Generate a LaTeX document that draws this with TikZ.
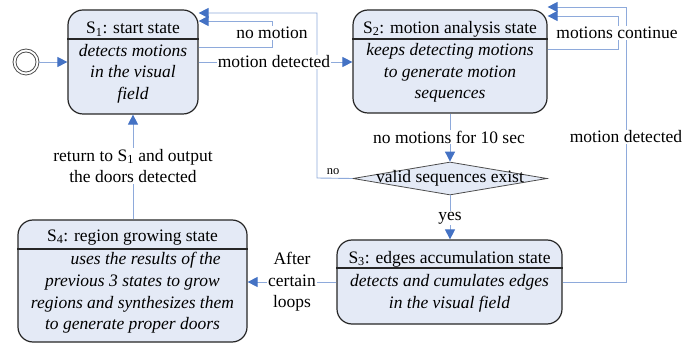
\documentclass[tikz,border=0pt]{standalone}
\usepackage{fontspec}
\setmainfont{Liberation Serif}
\usetikzlibrary{arrows.meta,shapes.geometric,calc}
\definecolor{boxfill}{RGB}{228,234,246}
\definecolor{lineblue}{RGB}{142,170,219}
\definecolor{tipblue}{RGB}{68,114,196}
\begin{document}
\begin{tikzpicture}[x=1pt,y=-1pt,
  statebox/.style={draw=black!85,line width=1.2pt,fill=boxfill,rounded corners=15pt,inner sep=0pt},
  divline/.style={draw=black!85,line width=1.2pt},
  txt/.style={font=\fontsize{17.5}{21.7}\selectfont,inner sep=0pt,align=center},
  itxt/.style={font=\fontsize{17.5}{21.7}\selectfont\itshape,inner sep=0pt,align=center},
  conn/.style={draw=lineblue,line width=0.9pt,-{Triangle[length=10pt,width=10pt,color=tipblue]}},
  plain/.style={draw=lineblue,line width=0.9pt},
  lbl/.style={font=\fontsize{17.5}{21.7}\selectfont,fill=white,inner sep=1pt,align=center}]
\useasboundingbox (0,0) rectangle (700,344);
% states
\node[statebox,minimum width=130pt,minimum height=104pt] (s1) at (133,62) {};
\draw[divline] (s1.west |- 0,39) -- (s1.east |- 0,39);
\node[txt] (s1t) at (133,29) {S\textsubscript{1}: start state};
\node[itxt] (s1b) at (133,73.5) {detects motions\\in the visual\\field};

\node[statebox,minimum width=194pt,minimum height=103pt] (s2) at (450,61.5) {};
\draw[divline] (s2.west |- 0,39) -- (s2.east |- 0,39);
\node[txt] (s2t) at (450,29) {S\textsubscript{2}: motion analysis state};
\node[itxt] (s2b) at (450,73) {keeps detecting motions\\to generate motion\\sequences};

\node[statebox,minimum width=225pt,minimum height=84pt] (s3) at (449.5,282) {};
\draw[divline] (s3.west |- 0,268) -- (s3.east |- 0,268);
\node[txt] (s3t) at (449.5,259) {S\textsubscript{3}: edges accumulation state};
\node[itxt] (s3b) at (449.5,293) {detects and cumulates edges\\in the visual field};

\node[statebox,minimum width=229pt,minimum height=122pt] (s4) at (132.5,281) {};
\draw[divline] (s4.west |- 0,249) -- (s4.east |- 0,249);
\node[txt] (s4t) at (132.5,237.5) {S\textsubscript{4}: region growing state};
\node[itxt] (s4b) at (132.5,293) {\hspace*{1.5em}uses the results of the\\previous 3 states to grow\\regions and synthesizes them\\to generate proper doors};

% decision
\node[diamond,draw=black!70,line width=0.8pt,fill=boxfill,minimum width=194pt,minimum height=33pt,inner sep=0pt] (d) at (450,178.5) {};
\node[txt] (dt) at (450,178) {valid sequences exist};

% initial state
\node[circle,draw=black!70,line width=0.8pt,minimum size=26pt,inner sep=0pt] (init) at (26,62) {};
\node[circle,draw=black!70,line width=0.8pt,minimum size=20pt,inner sep=0pt] (initin) at (26,62) {};

% coordinates
\coordinate (nmR) at (272,47);
\coordinate (nmT) at (272,21);
\coordinate (noL) at (317,178);
\coordinate (noT) at (317,13);
\coordinate (mcR) at (618,49);
\coordinate (mcT) at (618,16);
\coordinate (mdR) at (626,282);
\coordinate (mdT) at (626,7);

% connectors
\draw[conn] (init.east) -- (s1.west |- init.east);
\draw[conn] (s1.east |- nmR) -- (nmR) -- (nmT) -- (s1.east |- nmT);
\draw[conn] (s1.east |- 0,62) -- (s2.west |- 0,62);
\draw[conn] (d.west) -- (noL) -- (noT) -- (s1.east |- noT);
\draw[conn] (s2.south -| d.north) -- (d.north);
\draw[conn] (s2.east |- mcR) -- (mcR) -- (mcT) -- (s2.east |- mcT);
\draw[conn] (d.south) -- (s3.north -| d.south);
\draw[conn] (s3.east |- mdR) -- (mdR) -- (mdT) -- (s2.east |- mdT);
\draw[conn] (s3.west) -- (s4.east |- s3.west);
\draw[conn] (s4.north -| s1.south) -- (s1.south);

% labels
\node[lbl] (lnm) at (272,33) {no motion};
\node[lbl] (lmd) at (274,62) {motion detected};
\node[font=\fontsize{12.5}{14}\selectfont,inner sep=0pt] (lno) at (333,172) {no};
\node[lbl] (lnm10) at (449,137) {no motions for 10 sec};
\node[lbl] (lmc) at (617,33) {motions continue};
\node[lbl] (lyes) at (450,218) {yes};
\node[lbl] (lmd2) at (626,137) {motion detected};
\node[lbl] (lac) at (292,282) {After\\certain\\loops};
\node[lbl] (lret) at (133,166) {return to S\textsubscript{1} and output\\the doors detected};
\end{tikzpicture}
\end{document}
